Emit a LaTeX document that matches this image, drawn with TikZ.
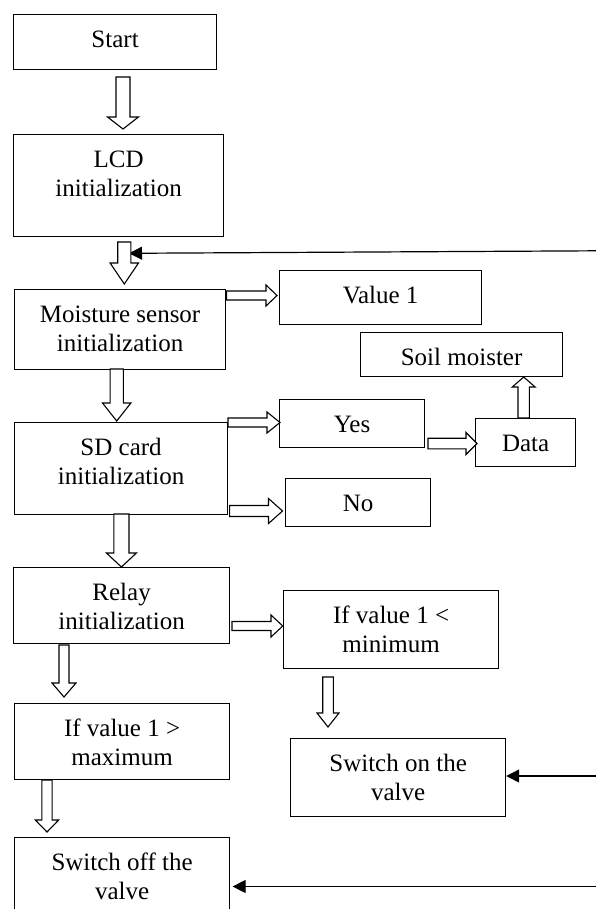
\documentclass[tikz,border=0pt]{standalone}
\usepackage{fontspec}
\setmainfont{Liberation Serif}
\usetikzlibrary{calc,arrows.meta}
\newcommand\bxt[3]{\parbox[c][#2][t]{#1}{\centering\rule{0pt}{33pt}#3}}
\newcommand\blockarr[5]{%
  \draw[blockarrow] let \p1=($(#2)!#5!(#1)$) in
   ($(#1)!#3!90:(#2)$) -- ($(\p1)!#3!90:(#2)$) -- ($(\p1)!#4!90:(#2)$) -- (#2)
   -- ($(\p1)!#4!-90:(#2)$) -- ($(\p1)!#3!-90:(#2)$) -- ($(#1)!#3!-90:(#2)$) -- cycle;}
\tikzset{
  box/.style={draw=black, line width=1.2pt, inner sep=0pt, anchor=north west,
    font=\fontsize{25}{28.75}\selectfont},
  blockarrow/.style={draw=black, fill=white, line width=1.1pt, line join=miter},
  feedback/.style={draw=black, line width=1.2pt, -{Triangle[length=13pt,width=13pt]}}
}
\begin{document}
\begin{tikzpicture}[x=1pt,y=-1pt]
\useasboundingbox (0,0) rectangle (595,909);
% boxes
\node[box] (start) at (13,14)  {\bxt{203pt}{55pt}{Start}};
\node[box] (lcd)   at (13,134) {\bxt{210pt}{102pt}{LCD\\initialization}};
\node[box] (moist) at (14,289) {\bxt{211pt}{80pt}{Moisture sensor\\initialization}};
\node[box] (val)   at (279,270) {\bxt{202pt}{54pt}{Value 1}};
\node[box] (soil)  at (360,332) {\bxt{202pt}{44pt}{Soil moister}};
\node[box] (sd)    at (14,422) {\bxt{213pt}{92pt}{SD card\\initialization}};
\node[box] (yes)   at (279,399) {\bxt{145pt}{48pt}{Yes}};
\node[box] (data)  at (475,418) {\bxt{100pt}{48pt}{Data}};
\node[box] (no)    at (285,478) {\bxt{145pt}{48pt}{No}};
\node[box] (relay) at (13,567) {\bxt{216pt}{76pt}{Relay\\initialization}};
\node[box] (ifmin) at (283,590) {\bxt{215pt}{78pt}{If value 1 <\\minimum}};
\node[box] (ifmax) at (14,703) {\bxt{215pt}{76pt}{If value 1 >\\maximum}};
\node[box] (swon)  at (290,738) {\bxt{215pt}{78pt}{Switch on the\\valve}};
\node[box] (swoff) at (14,837) {\bxt{215pt}{82pt}{Switch off the\\valve}};
% coordinates for connectors
\coordinate (a1s) at (123,77);    \coordinate (a1e) at (123,129);
\coordinate (a2s) at (124.3,242); \coordinate (a2e) at (124.3,284);
\coordinate (a3s) at (116.7,369); \coordinate (a3e) at (116.7,421);
\coordinate (a4s) at (121.4,514); \coordinate (a4e) at (121.4,567);
\coordinate (a5s) at (64,645);    \coordinate (a5e) at (64,697);
\coordinate (a6s) at (47,780);    \coordinate (a6e) at (47,832);
\coordinate (a7s) at (328,677);   \coordinate (a7e) at (328,727);
\coordinate (a8s) at (523.7,418); \coordinate (a8e) at (523.7,377);
\coordinate (h1s) at (226.6,295.5); \coordinate (h1e) at (277,295.5);
\coordinate (h2s) at (228,422.5);   \coordinate (h2e) at (280,422.5);
\coordinate (h3s) at (428,443.5);   \coordinate (h3e) at (477,443.5);
\coordinate (h4s) at (229.6,511);   \coordinate (h4e) at (282.5,511);
\coordinate (h5s) at (232,626);     \coordinate (h5e) at (282.7,626);
\coordinate (fb1s) at (597,250.8);  \coordinate (fb1e) at (129,253.3);
\coordinate (fb2s) at (597,776);
\coordinate (fb3s) at (597,886.5);  \coordinate (fb3e) at (232.6,886.5);
% feedback arrows
\draw[feedback] (fb1s) -- (fb1e);
\draw[feedback] (fb2s) -- (swon.east |- fb2s);
\draw[feedback] (fb3s) -- (fb3e);
% block arrows
\blockarr{a1s}{a1e}{7pt}{15.5pt}{12pt}
\blockarr{a2s}{a2e}{6.6pt}{14.2pt}{21pt}
\blockarr{a3s}{a3e}{6.6pt}{14.2pt}{18pt}
\blockarr{a4s}{a4e}{7.6pt}{15pt}{14pt}
\blockarr{a5s}{a5e}{5pt}{12pt}{14pt}
\blockarr{a6s}{a6e}{5.1pt}{11.7pt}{12pt}
\blockarr{a7s}{a7e}{5.3pt}{11pt}{14pt}
\blockarr{a8s}{a8e}{5.7pt}{11.4pt}{10pt}
\blockarr{h1s}{h1e}{4.5pt}{10.5pt}{11pt}
\blockarr{h2s}{h2e}{4.5pt}{10.5pt}{13pt}
\blockarr{h3s}{h3e}{5.3pt}{11pt}{11pt}
\blockarr{h4s}{h4e}{5.5pt}{12.5pt}{14pt}
\blockarr{h5s}{h5e}{4.5pt}{11pt}{11.7pt}
\end{tikzpicture}
\end{document}
